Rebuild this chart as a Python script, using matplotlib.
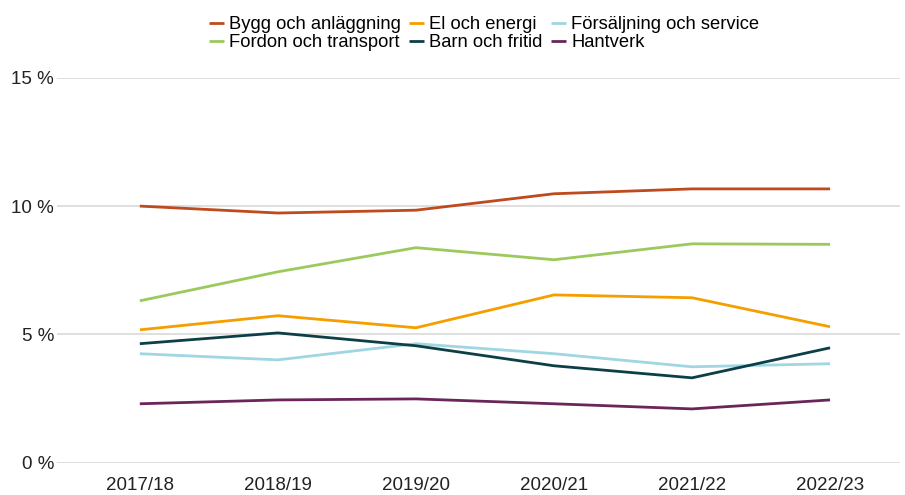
import numpy as np
import matplotlib.pyplot as plt
from matplotlib.ticker import FuncFormatter

plt.rcParams['font.family'] = ['Liberation Sans', 'DejaVu Sans']

years = ["2017/18", "2018/19", "2019/20", "2020/21", "2021/22", "2022/23"]

bygg = [10.0, 9.73, 9.84, 10.48, 10.67, 10.67]
el = [5.18, 5.73, 5.26, 6.54, 6.43, 5.30]
forsaljning = [4.25, 4.01, 4.64, 4.25, 3.74, 3.86]
fordon = [6.31, 7.44, 8.38, 7.91, 8.53, 8.51]
barn = [4.64, 5.06, 4.56, 3.78, 3.31, 4.48]
hantverk = [2.30, 2.45, 2.49, 2.30, 2.10, 2.45]

serier = [
    ("Bygg och anläggning", bygg, "#BE4A1E"),
    ("El och energi", el, "#F59E00"),
    ("Försäljning och service", forsaljning, "#9FD6E1"),
    ("Fordon och transport", fordon, "#9CC95C"),
    ("Barn och fritid", barn, "#0D3F47"),
    ("Hantverk", hantverk, "#6A2659"),
]

fig = plt.figure(figsize=(9.05, 4.95), dpi=100)
ax = fig.add_axes([0.063, 0.065, 0.932, 0.778])

x = np.arange(len(years))
linjer = []
for namn, varden, farg in serier:
    l, = ax.plot(x, varden, color=farg, linewidth=2.0, label=namn, solid_capstyle='butt')
    linjer.append(l)

ax.set_xlim(-0.6, 5.51)
ax.set_ylim(0, 15)
ax.set_yticks([0, 5, 10, 15])
ax.yaxis.set_major_formatter(FuncFormatter(lambda v, p: f"{int(v)} %"))
ax.set_xticks(x)
ax.set_xticklabels(years)
ax.grid(axis='y', color='#D9D9D9', linewidth=1.2)
ax.set_axisbelow(True)
for s in ax.spines.values():
    s.set_visible(False)
ax.tick_params(axis='both', length=0, labelsize=13.5, colors='#222222')
ax.tick_params(axis='x', pad=10)
ax.tick_params(axis='y', pad=2)

# legenden fylls kolumnvis, så ordna om för radvis läsning
ordning = [0, 3, 1, 4, 2, 5]
fig.legend([linjer[i] for i in ordning], [serier[i][0] for i in ordning],
           loc='upper center', bbox_to_anchor=(0.535, 0.99), ncol=3, frameon=False,
           fontsize=13.2, handlelength=0.8, handletextpad=0.3, columnspacing=0.45,
           labelspacing=0.08, borderaxespad=0.2)

fig.savefig("out.png", dpi=100)
